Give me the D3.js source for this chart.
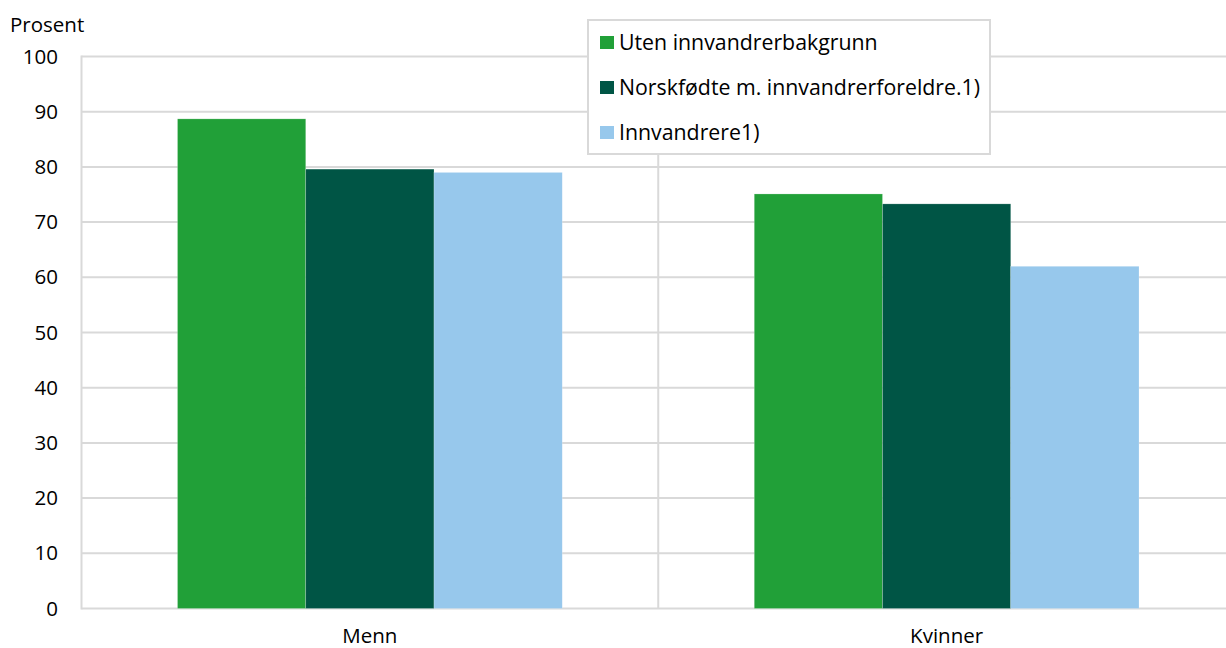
<!DOCTYPE html>
<html><head><meta charset="utf-8">
<script src="https://cdn.jsdelivr.net/npm/d3@7"></script>
<style>body{margin:0;background:#fff;} svg{display:block;font-family:"Open Sans",sans-serif;}</style>
</head><body>
<svg id="c" width="1226" height="648"></svg>
<script>
const categories = ["Menn", "Kvinner"];
const seriesNames = ["Uten innvandrerbakgrunn", "Norskfødte m. innvandrerforeldre.1)", "Innvandrere1)"];
const utenValues = [88.7, 75.1];
const norskfodteValues = [79.6, 73.3];
const innvandrereValues = [79.0, 62.0];
const yTicks = [0, 10, 20, 30, 40, 50, 60, 70, 80, 90, 100];
const colors = ["#21a038", "#005545", "#97c8ec"];

(function () {
const seriesValues = [utenValues, norskfodteValues, innvandrereValues];
const svg = d3.select("#c");
const mLeft = 81.5, mRight = 1235, mTop = 56.5, mBottom = 608.5;
const fs = 20.5;

const x0 = d3.scaleBand().domain(categories).range([mLeft, mRight]).paddingInner(0).paddingOuter(0);
const x1 = d3.scaleBand().domain(d3.range(seriesNames.length)).range([96, x0.bandwidth() - 96]).padding(0);
const y = d3.scaleLinear().domain([0, 100]).range([mBottom, mTop]);

const grid = "#d9d9d9";
svg.append("g").selectAll("line").data(yTicks).join("line")
  .attr("x1", mLeft).attr("x2", 1226)
  .attr("y1", d => y(d)).attr("y2", d => y(d))
  .attr("stroke", grid).attr("stroke-width", 2);
svg.append("line").attr("x1", mLeft).attr("x2", mLeft).attr("y1", y(100) - 1).attr("y2", y(0) + 1)
  .attr("stroke", grid).attr("stroke-width", 2);
svg.append("line").attr("x1", x0("Kvinner")).attr("x2", x0("Kvinner")).attr("y1", y(100)).attr("y2", y(0))
  .attr("stroke", grid).attr("stroke-width", 2);

categories.forEach((c, ci) => {
  seriesValues.forEach((vals, si) => {
    svg.append("rect")
      .attr("x", x0(c) + x1(si))
      .attr("width", x1.bandwidth())
      .attr("y", y(vals[ci]))
      .attr("height", y(0) - y(vals[ci]))
      .attr("fill", colors[si])
      .attr("stroke", "rgba(255,255,255,0.35)").attr("stroke-width", 0.6);
  });
});

svg.append("g").selectAll("text").data(yTicks).join("text")
  .attr("x", 58).attr("y", d => y(d)).attr("dy", "0.35em")
  .attr("text-anchor", "end").attr("font-size", fs).attr("fill", "#000")
  .text(d => d);
svg.append("text").attr("x", 10).attr("y", 32).attr("font-size", fs).text("Prosent");

svg.append("g").selectAll("text").data(categories).join("text")
  .attr("x", d => x0(d) + x0.bandwidth() / 2).attr("y", 643)
  .attr("text-anchor", "middle").attr("font-size", fs).text(d => d);

const lg = svg.append("g");
lg.append("rect").attr("x", 588).attr("y", 20).attr("width", 402).attr("height", 134)
  .attr("fill", "#fff").attr("stroke", grid).attr("stroke-width", 2);
seriesNames.forEach((n, i) => {
  const cy = 42.5 + i * 45;
  lg.append("rect").attr("x", 600).attr("y", cy - 6.5).attr("width", 14).attr("height", 13).attr("fill", colors[i]);
  lg.append("text").attr("x", 619).attr("y", cy).attr("dy", "0.35em").attr("font-size", 21.3).text(n);
});
})();
</script>
</body></html>
